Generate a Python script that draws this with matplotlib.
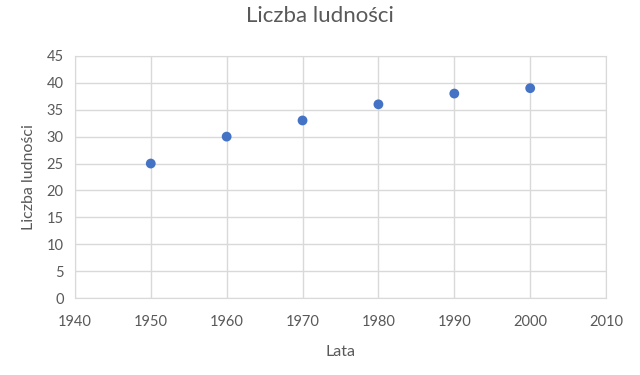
import matplotlib
matplotlib.use("Agg")
import matplotlib.pyplot as plt

years = [1950, 1960, 1970, 1980, 1990, 2000]
population = [25, 30, 33, 36, 38, 39]
x_ticks = [1940, 1950, 1960, 1970, 1980, 1990, 2000, 2010]
y_ticks = [0, 5, 10, 15, 20, 25, 30, 35, 40, 45]

plt.rcParams['font.family'] = ['Lato', 'DejaVu Sans']
text_color = '#595959'
grid_color = '#d9d9d9'

fig = plt.figure(figsize=(6.4, 3.75), dpi=100)
ax = fig.add_axes([0.117, 0.205, 0.830, 0.646])
ax.scatter(years, population, s=50, color='#4472C4', zorder=3, edgecolors='none')
ax.set_xlim(1940, 2010)
ax.set_ylim(0, 45)
ax.set_xticks(x_ticks)
ax.set_yticks(y_ticks)
ax.grid(True, color=grid_color, linewidth=1)
ax.set_axisbelow(True)
for s in ax.spines.values():
    s.set_color(grid_color)
ax.tick_params(axis='x', length=0, labelsize=10.5, colors=text_color, pad=12)
ax.tick_params(axis='y', length=0, labelsize=10.5, colors=text_color, pad=8)
ax.set_xlabel('Lata', fontsize=11.5, color=text_color, labelpad=12)
ax.set_ylabel('Liczba ludności', fontsize=11.5, color=text_color, labelpad=8)
fig.suptitle('Liczba ludności', fontsize=16, color=text_color, y=0.985)
fig.savefig('out.png', dpi=100)
